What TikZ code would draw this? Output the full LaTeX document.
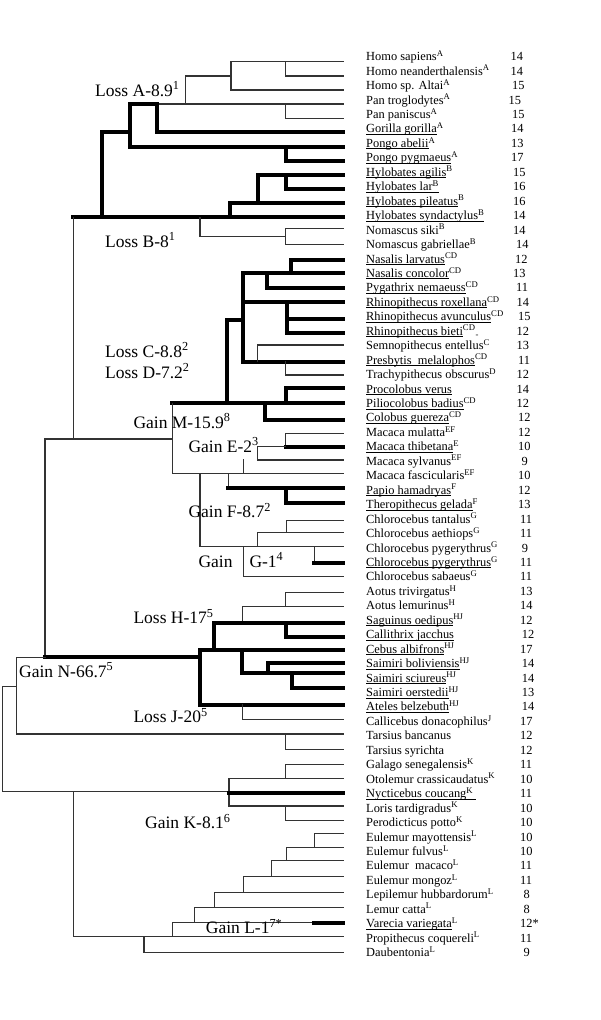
\documentclass[tikz,border=0pt]{standalone}
\usepackage{fontspec}
\usepackage{graphicx}
\setmainfont{Liberation Serif}
\newcommand\leaffont{\fontsize{12.4}{14}\selectfont}
\newcommand\labfont{\fontsize{17.5}{20}\selectfont}
\newcommand\ud[1]{\setbox0=\hbox{#1}\rlap{\rule[-1.6pt]{\wd0}{0.6pt}}\box0}
\tikzset{
  tl/.style={line width=1.1pt, draw=black!80, line cap=rect},
  tk/.style={line width=4pt, draw=black, line cap=rect},
  leaf/.style={anchor=base west, inner sep=0pt, font=\leaffont},
  num/.style={anchor=base west, inner sep=0pt, font=\leaffont},
  lab/.style={anchor=base west, inner sep=0pt, font=\labfont},
}
\newcommand\leaf[4]{%
  \node[leaf] (l#1) at (366,{60.7+(#1-1)*14.45}) {#2};
  \node[num] (n#1) at (#4,{60.7+(#1-1)*14.45}) {#3};}
\begin{document}
\begin{tikzpicture}[x=1pt,y=-1pt]
\useasboundingbox[fill=white] (0,0) rectangle (600,1020);
% ---------------- Hominoidea
\draw[tl] (231,61.7) -- (343,61.7);
\draw[tl] (285.7,61.7) -- (285.7,76) -- (343,76);
\draw[tl] (231,61.7) -- (231,90) -- (343,90);
\draw[tl] (185.7,76) -- (231,76);
\draw[tl] (185.7,76) -- (185.7,104);
\draw[tl] (156.7,104) -- (343,104);
\draw[tl] (285.7,104) -- (285.7,118.3) -- (343,118.3);
\draw[tk] (156.7,104) -- (156.7,132.3) -- (343,132.3);
\draw[tk] (156.7,104) -- (130,104) -- (130,146.7) -- (343,146.7);
\draw[tk] (285.7,146.7) -- (285.7,160.7) -- (343,160.7);
\draw[tk] (130,132.3) -- (101.7,132.3) -- (101.7,217.3);
\draw[tk] (73.3,217.3) -- (343,217.3);
\draw[tk] (230,217.3) -- (230,203.3) -- (343,203.3);
\draw[tk] (257.7,203.3) -- (257.7,175) -- (343,175);
\draw[tk] (285.7,175) -- (285.7,189) -- (343,189);
\draw[tl] (200,217.3) -- (200,236.7) -- (285.7,236.7);
\draw[tl] (285.7,228.3) -- (343,228.3);
\draw[tl] (285.7,228.3) -- (285.7,244.7) -- (343,244.7);
\draw[tl] (73.3,217.3) -- (73.3,439);
\draw[tl] (45,439) -- (172.3,439);
\draw[tl] (45,439) -- (45,656.7);
% ---------------- Colobinae
\draw[tk] (291,260) -- (343,260);
\draw[tk] (291,260) -- (291,273.3);
\draw[tk] (243.3,273.3) -- (343,273.3);
\draw[tk] (266.7,273.3) -- (266.7,288.3) -- (343,288.3);
\draw[tk] (243.3,273.3) -- (243.3,361.7) -- (343,361.7);
\draw[tk] (243.3,302.3) -- (343,302.3);
\draw[tk] (287.3,302.3) -- (287.3,333.3) -- (343,333.3);
\draw[tk] (287.3,319.3) -- (343,319.3);
\draw[tk] (226.7,320) -- (243.3,320);
\draw[tk] (226.7,320) -- (226.7,403.3);
\draw[tk] (172.3,403.3) -- (343,403.3);
\draw[tk] (285.7,403.3) -- (285.7,387.7) -- (343,387.7);
\draw[tk] (265,403.3) -- (265,420) -- (343,420);
\draw[tl] (257.7,361.7) -- (257.7,345) -- (343,345);
\draw[tl] (285.7,361.7) -- (285.7,375) -- (343,375);
% ---------------- Cercopithecinae
\draw[tl] (172.3,403.3) -- (172.3,473.3) -- (343,473.3);
\draw[tl] (285.7,433.3) -- (343,433.3);
\draw[tl] (285.7,433.3) -- (285.7,446.7);
\draw[tk] (285.7,446.7) -- (343,446.7);
\draw[tl] (257.7,446.7) -- (285.7,446.7);
\draw[tl] (257.7,446.7) -- (257.7,460) -- (343,460);
\draw[tl] (243.3,460) -- (243.3,473.3);
\draw[tl] (228.3,473.3) -- (228.3,488.3);
\draw[tk] (228.3,488.3) -- (343,488.3);
\draw[tk] (285.7,488.3) -- (285.7,503.3) -- (343,503.3);
\draw[tl] (200,473.3) -- (200,546.7) -- (343,546.7);
\draw[tl] (286.7,520.7) -- (343,520.7);
\draw[tl] (286.7,520.7) -- (286.7,532.7);
\draw[tl] (257.7,532.7) -- (343,532.7);
\draw[tl] (257.7,532.7) -- (257.7,546.7);
\draw[tl] (314.3,546.7) -- (314.3,563.3);
\draw[tk] (314.3,563.3) -- (343,563.3);
\draw[tl] (243.3,546.7) -- (243.3,576.7) -- (343,576.7);
% ---------------- Platyrrhini
\draw[tl] (285.7,592.3) -- (343,592.3);
\draw[tl] (285.7,592.3) -- (285.7,606.7);
\draw[tl] (242.3,606.7) -- (343,606.7);
\draw[tl] (242.3,606.7) -- (242.3,623.3);
\draw[tk] (214.3,623.3) -- (343,623.3);
\draw[tk] (285.7,623.3) -- (285.7,636.7) -- (343,636.7);
\draw[tk] (214.3,623.3) -- (214.3,650);
\draw[tk] (200,650) -- (343,650);
\draw[tk] (45,656.7) -- (200,656.7);
\draw[tk] (200,650) -- (200,705) -- (343,705);
\draw[tk] (242.3,650) -- (242.3,673.3) -- (343,673.3);
\draw[tk] (268.3,673.3) -- (268.3,662.7) -- (343,662.7);
\draw[tk] (292.3,673.3) -- (292.3,688.3) -- (343,688.3);
\draw[tl] (242.3,705) -- (242.3,719.3) -- (343,719.3);
% ---------------- Haplorhini / root
\draw[tl] (16.7,657.5) -- (45,657.5);
\draw[tl] (16.7,657.5) -- (16.7,734) -- (343,734);
\draw[tl] (285.7,734) -- (285.7,749.3) -- (343,749.3);
\draw[tl] (2.7,686.7) -- (16.7,686.7);
\draw[tl] (2.7,686.7) -- (2.7,791.7) -- (229,791.7);
% ---------------- Lorisiformes
\draw[tl] (229,778.3) -- (229,806);
\draw[tl] (229,778.3) -- (343,778.3);
\draw[tl] (285.7,778.3) -- (285.7,764.3) -- (343,764.3);
\draw[tk] (229,792.7) -- (343,792.7);
\draw[tl] (229,806) -- (343,806);
\draw[tl] (285.7,806) -- (285.7,820.7) -- (343,820.7);
% ---------------- Lemuriformes
\draw[tl] (73.3,791.7) -- (73.3,936.7) -- (343,936.7);
\draw[tl] (144,936.7) -- (144,952.3) -- (343,952.3);
\draw[tl] (172.3,936.7) -- (172.3,922.5) -- (314.3,922.5);
\draw[tk] (314.3,922.5) -- (343,922.5);
\draw[tl] (194.3,922.5) -- (194.3,907.3) -- (343,907.3);
\draw[tl] (214.3,907.3) -- (214.3,892.7) -- (343,892.7);
\draw[tl] (243.3,892.7) -- (243.3,876.7) -- (343,876.7);
\draw[tl] (271.7,876.7) -- (271.7,860.7) -- (343,860.7);
\draw[tl] (286.7,860.7) -- (286.7,847.7) -- (343,847.7);
\draw[tl] (314.3,847.7) -- (314.3,833.3) -- (343,833.3);
% ---------------- labels
\node[lab] (la) at (95,96) {Loss A-8.9\textsuperscript{1}};
\node[lab] (lb) at (105,247) {Loss B-8\textsuperscript{1}};
\node[lab] (lc) at (105,357) {Loss C-8.8\textsuperscript{2}};
\node[lab] (ld) at (105,378) {Loss D-7.2\textsuperscript{2}};
\node[lab] (lm) at (133.3,428) {Gain M-15.9\textsuperscript{8}};
\node[lab] (le) at (188.3,452) {Gain E-2\textsuperscript{3}};
\node[lab] (lf) at (188.3,517.5) {Gain F-8.7\textsuperscript{2}};
\node[lab] (lg1) at (198.3,567) {Gain};
\node[lab] (lg2) at (249.3,567) {G-1\textsuperscript{4}};
\node[lab] (lh) at (133.3,623.5) {Loss H-17\textsuperscript{5}};
\node[lab] (ln) at (19,677) {Gain N-66.7\textsuperscript{5}};
\node[lab] (lj) at (133.3,722.5) {Loss J-20\textsuperscript{5}};
\node[lab] (lk) at (145,828.5) {Gain K-8.1\textsuperscript{6}};
\node[lab] (ll) at (205.7,933.5) {Gain L-1\textsuperscript{7*}};
% ---------------- leaves
\leaf{1}{Homo sapiens\textsuperscript{A}}{14}{510.5}
\leaf{2}{Homo neanderthalensis\textsuperscript{A}}{14}{510.5}
\leaf{3}{Homo sp. Altai\textsuperscript{A}}{15}{512}
\leaf{4}{Pan troglodytes\textsuperscript{A}}{15}{508.5}
\leaf{5}{Pan paniscus\textsuperscript{A}}{15}{512}
\leaf{6}{\ud{Gorilla gorilla}\textsuperscript{A}}{14}{511}
\leaf{7}{\ud{Pongo abelii}\textsuperscript{A}}{13}{511}
\leaf{8}{\ud{Pongo pygmaeus}\textsuperscript{A}}{17}{511}
\leaf{9}{\ud{Hylobates agilis}\textsuperscript{B}}{15}{513}
\leaf{10}{\ud{Hylobates lar\textsuperscript{B}}}{16}{513}
\leaf{11}{\ud{Hylobates pileatus}\textsuperscript{B}}{16}{513}
\leaf{12}{\ud{Hylobates syndactylus\textsuperscript{B}}}{14}{513}
\leaf{13}{Nomascus siki\textsuperscript{B}}{14}{513}
\leaf{14}{Nomascus gabriellae\textsuperscript{B}}{14}{516}
\leaf{15}{\ud{Nasalis larvatus} \textsuperscript{CD}}{12}{515}
\leaf{16}{\ud{Nasalis concolor}\textsuperscript{CD}}{13}{513}
\leaf{17}{\ud{Pygathrix nemaeuss}\textsuperscript{CD}}{11}{516}
\leaf{18}{\ud{Rhinopithecus roxellana}\textsuperscript{CD}}{14}{516.5}
\leaf{19}{\ud{Rhinopithecus avunculus} \textsuperscript{CD}}{15}{518}
\leaf{20}{\ud{Rhinopithecus bieti} \textsuperscript{CD}\textsubscript{-}}{12}{516.5}
\leaf{21}{Semnopithecus entellus\textsuperscript{C}}{13}{516.5}
\leaf{22}{\ud{Presbytis\ \ melalophos}\textsuperscript{CD}}{11}{518}
\leaf{23}{Trachypithecus obscurus\textsuperscript{D}}{12}{516.5}
\leaf{24}{\ud{Procolobus verus}}{14}{516.5}
\leaf{25}{\ud{Piliocolobus badius}\textsuperscript{CD}}{12}{516.5}
\leaf{26}{\ud{Colobus guereza}\textsuperscript{CD}}{12}{518}
\leaf{27}{Macaca mulatta\textsuperscript{EF}}{12}{518}
\leaf{28}{\ud{Macaca thibetana}\textsuperscript{E}}{10}{518}
\leaf{29}{Macaca sylvanus\textsuperscript{EF}}{9}{521.5}
\leaf{30}{Macaca fascicularis\textsuperscript{EF}}{10}{518}
\leaf{31}{\ud{Papio hamadryas}\textsuperscript{F}}{12}{518}
\leaf{32}{\ud{Theropithecus gelada}\textsuperscript{F}}{13}{518}
\leaf{33}{Chlorocebus tantalus\textsuperscript{G}}{11}{520}
\leaf{34}{Chlorocebus aethiops\textsuperscript{G}}{11}{520}
\leaf{35}{Chlorocebus pygerythrus\textsuperscript{G}}{9}{521.7}
\leaf{36}{\ud{Chlorocebus pygerythrus}\textsuperscript{G}}{11}{520}
\leaf{37}{Chlorocebus sabaeus\textsuperscript{G}}{11}{520}
\leaf{38}{Aotus trivirgatus\textsuperscript{H}}{13}{520}
\leaf{39}{Aotus lemurinus\textsuperscript{H}}{14}{520}
\leaf{40}{\ud{Saguinus oedipus}\textsuperscript{HJ}}{12}{520}
\leaf{41}{\ud{Callithrix jacchus}}{12}{521.7}
\leaf{42}{\ud{Cebus albifrons}\textsuperscript{HJ}}{17}{520}
\leaf{43}{\ud{Saimiri boliviensis}\textsuperscript{HJ}}{14}{521.7}
\leaf{44}{\ud{Saimiri sciureus}\textsuperscript{HJ}}{14}{521.7}
\leaf{45}{\ud{Saimiri oerstedii}\textsuperscript{HJ}}{13}{521.7}
\leaf{46}{\ud{Ateles belzebuth}\textsuperscript{HJ}}{14}{521.7}
\leaf{47}{Callicebus donacophilus\textsuperscript{J}}{17}{520}
\leaf{48}{Tarsius bancanus}{12}{520}
\leaf{49}{Tarsius syrichta}{12}{520}
\leaf{50}{Galago senegalensis\textsuperscript{K}}{11}{520}
\leaf{51}{Otolemur crassicaudatus\textsuperscript{K}}{10}{520}
\leaf{52}{\ud{Nycticebus coucang\textsuperscript{K}\ }}{11}{520}
\leaf{53}{Loris tardigradus\textsuperscript{K}}{10}{520}
\leaf{54}{Perodicticus potto\textsuperscript{K}}{10}{520}
\leaf{55}{Eulemur mayottensis\textsuperscript{L}}{10}{520}
\leaf{56}{Eulemur fulvus\textsuperscript{L}}{10}{520}
\leaf{57}{Eulemur\ \ macaco\textsuperscript{L}}{11}{520}
\leaf{58}{Eulemur mongoz\textsuperscript{L}}{11}{520}
\leaf{59}{Lepilemur hubbardorum\textsuperscript{L}}{8}{523.3}
\leaf{60}{Lemur catta\textsuperscript{L}}{8}{523.3}
\leaf{61}{\ud{Varecia variegata}\textsuperscript{L}}{12*}{520}
\leaf{62}{Propithecus coquereli\textsuperscript{L}}{11}{520}
\leaf{63}{Daubentonia\textsuperscript{L}}{9}{523.3}
\end{tikzpicture}
\end{document}
